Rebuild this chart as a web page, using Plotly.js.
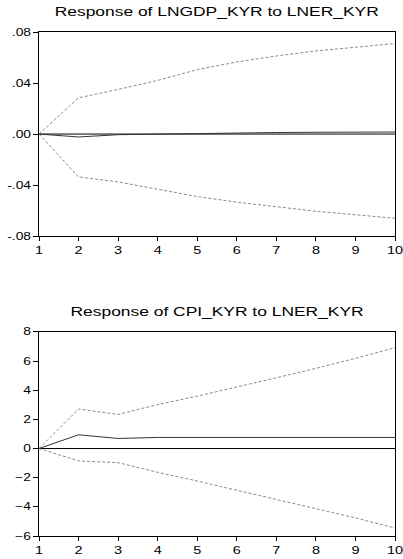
<!DOCTYPE html>
<html>
<head>
<meta charset="utf-8">
<script src="https://cdn.plot.ly/plotly-3.0.1.min.js"></script>
<style>html,body{margin:0;padding:0;background:#fff}#chart{width:403px;height:559px}</style>
</head>
<body>
<div id="chart"></div>
<script>
const periods = [1,2,3,4,5,6,7,8,9,10];

const gdpResponse = [0, -0.0023, -0.0005, 0, 0.0005, 0.001, 0.0012, 0.0014, 0.0015, 0.0016];
const gdpUpper    = [0, 0.0284, 0.035, 0.042, 0.0505, 0.0565, 0.0612, 0.0652, 0.068, 0.071];
const gdpLower    = [0, -0.0336, -0.0375, -0.0435, -0.049, -0.0534, -0.057, -0.0605, -0.0633, -0.066];

const cpiResponse = [0, 0.94, 0.69, 0.76, 0.76, 0.76, 0.76, 0.76, 0.76, 0.76];
const cpiUpper    = [0, 2.71, 2.34, 3.01, 3.59, 4.2, 4.85, 5.5, 6.18, 6.92];
const cpiLower    = [0, -0.85, -0.97, -1.63, -2.23, -2.85, -3.47, -4.11, -4.76, -5.45];

const gdpTickVals = [-0.08, -0.04, 0, 0.04, 0.08];
const gdpTickText = ['-.08', '-.04', '.00', '.04', '.08'];
const cpiTickVals = [-6, -4, -2, 0, 2, 4, 6, 8];

const titleTop = 'Response of LNGDP_KYR to LNER_KYR';
const titleBottom = 'Response of CPI_KYR to LNER_KYR';

const solid = {color: '#333333', width: 1};
const dash = {color: '#8a8a8a', width: 1, dash: '3px,2px'};
const zero = {color: '#000000', width: 1};

const traces = [
  {x: periods, y: periods.map(() => 0), xaxis: 'x', yaxis: 'y', mode: 'lines', line: zero, hoverinfo: 'skip'},
  {x: periods, y: gdpUpper, xaxis: 'x', yaxis: 'y', mode: 'lines', line: dash},
  {x: periods, y: gdpLower, xaxis: 'x', yaxis: 'y', mode: 'lines', line: dash},
  {x: periods, y: gdpResponse, xaxis: 'x', yaxis: 'y', mode: 'lines', line: solid},
  {x: periods, y: periods.map(() => 0), xaxis: 'x2', yaxis: 'y2', mode: 'lines', line: zero, hoverinfo: 'skip'},
  {x: periods, y: cpiUpper, xaxis: 'x2', yaxis: 'y2', mode: 'lines', line: dash},
  {x: periods, y: cpiLower, xaxis: 'x2', yaxis: 'y2', mode: 'lines', line: dash},
  {x: periods, y: cpiResponse, xaxis: 'x2', yaxis: 'y2', mode: 'lines', line: solid}
];

const fam = 'Liberation Sans, Arial, sans-serif';
const font = {family: fam, size: 10, color: '#000'};
const xBase = {
  range: [1, 10], tickvals: periods, ticks: 'outside', ticklen: 4, tickwidth: 1, tickcolor: '#000',
  showline: true, linecolor: '#000', linewidth: 1, mirror: true, showgrid: false, zeroline: false,
  tickfont: {family: fam, size: 10.5, color: '#000'}, fixedrange: true
};
const yBase = {
  ticks: 'outside', ticklen: 5, tickwidth: 1, tickcolor: '#000',
  showline: true, linecolor: '#000', linewidth: 1, mirror: true, showgrid: false, zeroline: false,
  tickfont: {family: fam, size: 10, color: '#000'}, fixedrange: true
};

const layout = {
  width: 403, height: 559,
  margin: {l: 39, r: 8, t: 32, b: 23},
  paper_bgcolor: '#fff', plot_bgcolor: '#fff',
  showlegend: false, font: font,
  xaxis: Object.assign({}, xBase, {anchor: 'y', domain: [0, 1]}),
  yaxis: Object.assign({}, yBase, {anchor: 'x', domain: [0.595, 1], range: [-0.08, 0.08], tickvals: gdpTickVals, ticktext: gdpTickText}),
  xaxis2: Object.assign({}, xBase, {anchor: 'y2', domain: [0, 1]}),
  yaxis2: Object.assign({}, yBase, {anchor: 'x2', domain: [0, 0.405], range: [-6, 8], tickvals: cpiTickVals}),
  annotations: [
    {text: titleTop, xref: 'paper', yref: 'paper', x: 0.5, y: 1, yshift: 20, showarrow: false, xanchor: 'center', yanchor: 'middle', font: {family: fam, size: 12, color: '#000'}},
    {text: titleBottom, xref: 'paper', yref: 'paper', x: 0.5, y: 0.405, yshift: 20, showarrow: false, xanchor: 'center', yanchor: 'middle', font: {family: fam, size: 12, color: '#000'}}
  ]
};

function stretchText(gd) {
  gd.querySelectorAll('.xtick text, .ytick text, .x2tick text, .y2tick text, text.annotation-text').forEach(t => {
    const f = t.classList.contains('annotation-text') ? 1.45 : 1.38;
    const w = t.getComputedTextLength();
    if (w > 0) {
      t.setAttribute('textLength', (w * f).toFixed(2));
      t.setAttribute('lengthAdjust', 'spacingAndGlyphs');
    }
  });
}

Plotly.newPlot('chart', traces, layout, {displayModeBar: false, staticPlot: true}).then(stretchText);
</script>
</body>
</html>
